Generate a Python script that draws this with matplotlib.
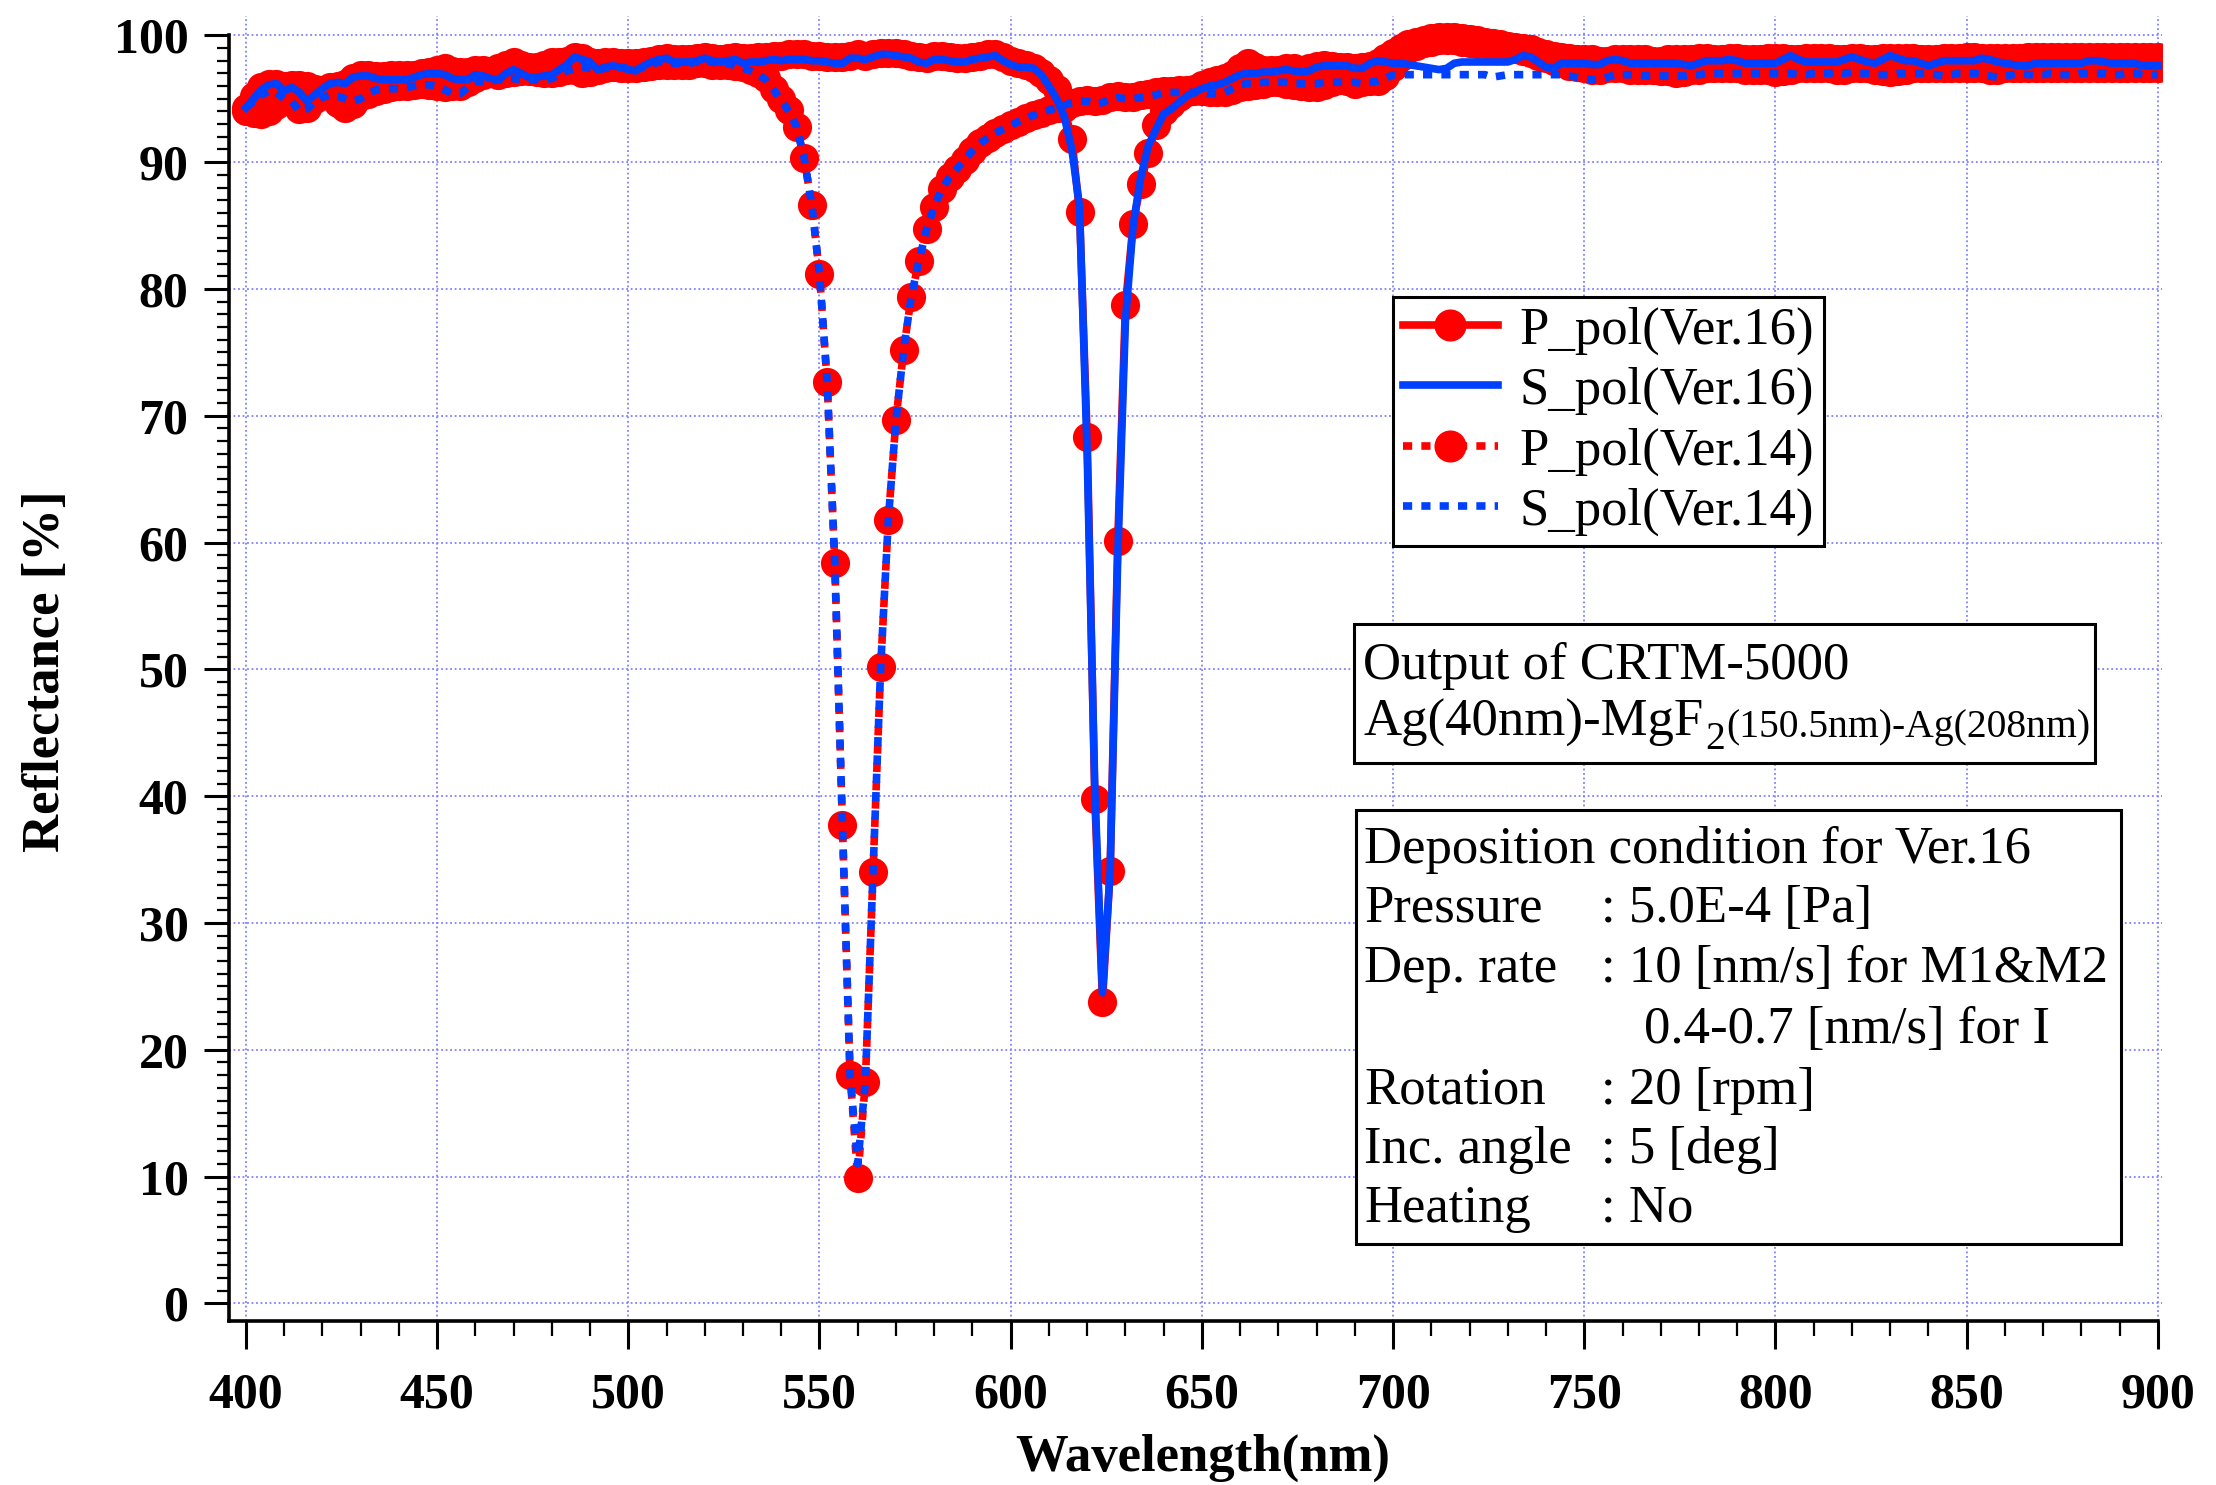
import numpy as np
import matplotlib
matplotlib.use("Agg")
import matplotlib.pyplot as plt
from matplotlib.patches import Rectangle
from matplotlib.ticker import FixedLocator

plt.rcParams['font.family'] = ['Liberation Serif', 'DejaVu Serif']

# ---------------- data (2 nm sampling) ----------------
wavelength = np.arange(400, 901, 2)

p_pol_v16 = [
    94.3, 95.2, 95.9, 96.2, 96.2, 96.0, 96.1, 96.1, 96.0, 95.8,   # 400-418
    95.7, 95.9, 96.0, 96.2, 96.6, 96.9, 96.9, 96.8, 96.8, 96.9,   # 420-438
    96.9, 96.9, 96.9, 97.0, 97.1, 97.3, 97.4, 97.2, 97.1, 97.1,   # 440-458
    97.3, 97.3, 97.2, 97.4, 97.7, 97.9, 97.7, 97.5, 97.5, 97.7,   # 460-478
    97.9, 97.9, 98.0, 98.3, 98.2, 97.9, 97.8, 97.9, 97.9, 97.8,   # 480-498
    97.8, 97.8, 97.9, 98.0, 98.1, 98.2, 98.1, 98.1, 98.1, 98.2,   # 500-518
    98.3, 98.2, 98.1, 98.2, 98.3, 98.2, 98.2, 98.3, 98.3, 98.4,   # 520-538
    98.4, 98.5, 98.5, 98.5, 98.4, 98.4, 98.3, 98.3, 98.3, 98.4,   # 540-558
    98.5, 98.4, 98.5, 98.6, 98.6, 98.6, 98.5, 98.4, 98.3, 98.2,   # 560-578
    98.4, 98.4, 98.3, 98.2, 98.2, 98.3, 98.4, 98.5, 98.5, 98.3,   # 580-598
    98.0, 97.8, 97.7, 97.4, 97.0, 96.5, 95.8, 94.3, 91.8, 86.1,   # 600-618
    68.3, 39.8, 23.8, 34.1, 60.1, 78.7, 85.1, 88.3, 90.7, 92.9,   # 620-638
    94.0, 94.6, 95.1, 95.5, 95.8, 96.1, 96.3, 96.5, 96.6, 96.9,   # 640-658
    97.4, 97.8, 97.5, 97.3, 97.3, 97.3, 97.4, 97.4, 97.3, 97.4,   # 660-678
    97.6, 97.7, 97.6, 97.5, 97.5, 97.4, 97.5, 97.6, 97.8, 98.2,   # 680-698
    98.6, 99.0, 99.3, 99.5, 99.6, 99.8, 99.9, 99.9, 99.9, 99.8,   # 700-718
    99.7, 99.6, 99.5, 99.4, 99.3, 99.2, 99.1, 99.0, 98.9, 98.7,   # 720-738
    98.5, 98.4, 98.3, 98.2, 98.1, 98.1, 98.1, 98.0, 98.0, 98.1,   # 740-758
    98.1, 98.1, 98.1, 98.1, 98.0, 98.0, 98.1, 98.1, 98.1, 98.1,   # 760-778
    98.2, 98.2, 98.1, 98.1, 98.2, 98.2, 98.1, 98.1, 98.1, 98.2,   # 780-798
    98.2, 98.2, 98.1, 98.1, 98.2, 98.2, 98.2, 98.2, 98.1, 98.1,   # 800-818
    98.2, 98.2, 98.1, 98.1, 98.2, 98.2, 98.2, 98.2, 98.2, 98.1,   # 820-838
    98.1, 98.1, 98.2, 98.2, 98.2, 98.3, 98.3, 98.2, 98.2, 98.2,   # 840-858
    98.2, 98.2, 98.2, 98.3, 98.3, 98.3, 98.3, 98.3, 98.3, 98.3,   # 860-878
    98.3, 98.3, 98.3, 98.3, 98.3, 98.3, 98.3, 98.3, 98.3, 98.3,   # 880-898
    98.3]                                                         # 900

s_pol_v16 = [
    94.3, 95.0, 95.7, 96.1, 96.2, 95.6, 95.9, 95.5, 94.8, 95.3,
    95.8, 96.2, 96.3, 96.2, 96.7, 96.8, 96.8, 96.6, 96.5, 96.5,
    96.5, 96.5, 96.7, 96.9, 97.0, 97.0, 96.9, 96.6, 96.5, 96.5,
    96.9, 96.8, 96.6, 96.5, 97.0, 97.3, 97.0, 96.7, 96.7, 96.8,
    96.9, 97.3, 97.7, 98.3, 98.1, 97.9, 97.3, 97.5, 97.6, 97.5,
    97.3, 97.2, 97.6, 97.9, 98.1, 98.2, 97.9, 97.9, 97.9, 98.0,
    98.2, 98.0, 97.9, 98.0, 98.1, 97.8, 97.9, 97.9, 98.0, 98.1,
    98.0, 98.1, 98.1, 98.1, 98.0, 98.0, 97.9, 97.8, 97.8, 98.2,
    98.2, 98.1, 98.3, 98.5, 98.5, 98.4, 98.3, 98.2, 97.9, 97.8,
    98.1, 98.1, 98.0, 97.9, 97.9, 98.1, 98.2, 98.3, 98.4, 98.0,
    97.7, 97.5, 97.5, 97.4, 96.9, 96.0, 95.0, 93.6, 91.0, 86.5,
    67.0, 40.5, 24.5, 34.0, 59.0, 77.5, 85.0, 88.8, 91.3, 92.6,
    93.8, 94.2, 94.7, 95.2, 95.5, 95.8, 96.0, 96.1, 96.3, 96.6,
    96.9, 97.0, 97.0, 97.1, 97.1, 97.2, 97.3, 97.2, 97.1, 97.2,
    97.5, 97.6, 97.6, 97.6, 97.6, 97.4, 97.4, 97.8, 98.0, 97.9,
    97.8, 97.8, 97.7, 97.6, 97.5, 97.4, 97.3, 97.4, 97.8, 97.9,
    97.9, 97.9, 97.9, 97.9, 97.9, 97.9, 98.1, 98.4, 98.3, 97.9,
    97.5, 97.4, 97.8, 97.8, 97.8, 97.8, 97.7, 97.7, 98.0, 98.1,
    98.0, 97.8, 97.8, 97.8, 97.8, 97.8, 97.8, 97.8, 97.7, 97.6,
    97.8, 98.0, 98.0, 98.0, 98.1, 98.0, 97.8, 97.8, 97.8, 97.8,
    97.8, 98.1, 98.4, 98.1, 97.9, 97.9, 97.9, 97.9, 97.9, 98.1,
    98.3, 98.1, 97.9, 97.8, 98.1, 98.4, 98.2, 98.0, 98.0, 97.8,
    97.6, 97.8, 98.0, 98.0, 98.0, 98.0, 98.0, 98.2, 98.1, 97.9,
    97.8, 97.7, 97.6, 97.6, 97.8, 97.8, 97.8, 97.8, 97.8, 97.8,
    97.8, 98.0, 98.0, 97.9, 97.8, 97.8, 97.8, 97.8, 97.6, 97.6,
    97.6]

p_pol_v14 = [
    94.0, 93.9, 93.8, 94.0, 94.5, 94.9, 94.9, 94.2, 94.3, 95.0,
    95.4, 95.2, 94.7, 94.3, 94.6, 95.2, 95.4, 95.6, 95.8, 95.9,
    96.0, 96.0, 96.1, 96.2, 96.1, 96.0, 95.9, 96.0, 96.0, 96.3,
    96.6, 96.9, 97.0, 96.9, 97.0, 97.1, 97.2, 97.2, 97.1, 97.0,
    97.0, 97.1, 97.3, 97.3, 97.0, 97.1, 97.3, 97.4, 97.5, 97.4,
    97.4, 97.4, 97.5, 97.6, 97.7, 97.7, 97.7, 97.7, 97.7, 97.8,
    97.8, 97.7, 97.7, 97.7, 97.6, 97.5, 97.3, 97.0, 96.6, 95.8,
    95.0, 94.1, 92.8, 90.3, 86.6, 81.2, 72.7, 58.4, 37.7, 18.0,
    9.9, 17.5, 34.0, 50.2, 61.8, 69.7, 75.2, 79.4, 82.2, 84.7,
    86.5, 87.9, 88.8, 89.5, 90.2, 90.9, 91.5, 91.9, 92.3, 92.6,
    92.9, 93.2, 93.5, 93.7, 93.9, 94.1, 94.3, 94.5, 94.7, 94.8,
    94.9, 94.8, 94.9, 95.1, 95.2, 95.1, 95.1, 95.3, 95.4, 95.5,
    95.6, 95.6, 95.7, 95.7, 95.6, 95.6, 95.5, 95.5, 95.5, 95.7,
    95.9, 96.0, 96.1, 96.2, 96.3, 96.3, 96.2, 96.1, 96.0, 95.9,
    95.9, 96.1, 96.3, 96.5, 96.4, 96.2, 96.3, 96.4, 96.4, 96.8,
    97.5, 98.3, 98.9, 99.2, 99.4, 99.5, 99.6, 99.6, 99.6, 99.5,
    99.4, 99.3, 99.3, 99.2, 99.1, 99.0, 98.9, 98.8, 98.6, 98.4,
    98.2, 98.0, 97.8, 97.6, 97.5, 97.4, 97.3, 97.3, 97.4, 97.4,
    97.4, 97.3, 97.3, 97.3, 97.3, 97.2, 97.2, 97.0, 97.1, 97.3,
    97.3, 97.4, 97.4, 97.4, 97.4, 97.4, 97.3, 97.3, 97.3, 97.3,
    97.1, 97.2, 97.3, 97.4, 97.4, 97.4, 97.4, 97.4, 97.3, 97.3,
    97.4, 97.4, 97.4, 97.3, 97.2, 97.1, 97.2, 97.3, 97.4, 97.4,
    97.4, 97.4, 97.4, 97.4, 97.4, 97.4, 97.4, 97.4, 97.3, 97.3,
    97.4, 97.4, 97.4, 97.4, 97.4, 97.4, 97.4, 97.4, 97.4, 97.4,
    97.4, 97.4, 97.4, 97.4, 97.4, 97.4, 97.4, 97.4, 97.4, 97.4,
    97.4]

s_pol_v14 = [
    94.3, 94.8, 95.3, 95.6, 95.5, 95.0, 94.8, 94.0, 94.2, 94.8,
    95.1, 95.3, 95.2, 95.0, 94.8, 95.0, 95.4, 95.7, 95.8, 95.8,
    95.8, 95.9, 96.0, 96.1, 96.1, 96.0, 95.7, 95.4, 95.4, 95.9,
    96.3, 96.4, 96.4, 96.5, 96.6, 96.6, 96.5, 96.5, 96.5, 96.5,
    96.6, 96.9, 97.2, 97.4, 97.5, 97.4, 97.3, 97.4, 97.5, 97.5,
    97.4, 97.3, 97.5, 97.7, 97.9, 97.9, 97.8, 97.8, 97.8, 97.9,
    98.0, 97.9, 97.8, 97.8, 97.6, 97.4, 97.2, 96.9, 96.5, 95.7,
    94.9, 94.0, 92.8, 90.3, 86.6, 81.2, 72.7, 58.4, 37.7, 18.0,
    11.0, 17.5, 34.0, 50.2, 61.8, 69.7, 75.2, 79.4, 82.2, 84.7,
    86.5, 87.9, 88.8, 89.5, 90.2, 90.9, 91.5, 91.9, 92.3, 92.6,
    92.9, 93.2, 93.5, 93.7, 93.9, 94.1, 94.3, 94.5, 94.7, 94.8,
    94.8, 94.6, 94.7, 95.0, 95.1, 95.0, 95.0, 95.1, 95.2, 95.3,
    95.5, 95.5, 95.5, 95.5, 95.5, 95.5, 95.4, 95.4, 95.5, 95.8,
    96.1, 96.2, 96.2, 96.3, 96.3, 96.3, 96.3, 96.2, 96.2, 96.2,
    96.2, 96.3, 96.3, 96.3, 96.3, 96.3, 96.2, 96.3, 96.4, 96.6,
    96.9, 96.9, 96.9, 96.9, 96.9, 96.9, 96.9, 96.9, 96.9, 96.9,
    96.9, 96.9, 96.9, 96.7, 96.8, 96.9, 96.9, 96.9, 96.9, 96.9,
    96.9, 96.9, 96.9, 96.8, 96.7, 96.6, 96.5, 96.5, 96.7, 96.9,
    96.9, 96.9, 96.9, 96.8, 96.8, 96.8, 96.8, 96.8, 96.8, 96.9,
    96.9, 97.0, 97.0, 97.0, 97.0, 97.0, 97.0, 97.0, 97.0, 97.0,
    97.0, 97.0, 97.0, 96.9, 96.9, 97.0, 97.0, 97.0, 97.1, 97.0,
    97.1, 97.0, 97.0, 96.9, 96.9, 96.9, 97.0, 97.0, 97.0, 97.0,
    97.0, 96.9, 96.8, 96.9, 97.0, 97.0, 97.0, 96.9, 96.8, 96.7,
    96.8, 96.9, 97.0, 96.9, 96.9, 96.9, 97.0, 96.9, 96.9, 96.9,
    97.0, 97.0, 97.0, 97.0, 96.9, 96.9, 97.0, 97.0, 96.9, 96.9,
    96.9]

series_labels = ['P_pol(Ver.16)', 'S_pol(Ver.16)', 'P_pol(Ver.14)', 'S_pol(Ver.14)']
x_ticks = [400, 450, 500, 550, 600, 650, 700, 750, 800, 850, 900]
y_ticks = [0, 10, 20, 30, 40, 50, 60, 70, 80, 90, 100]

info_title = ['Output of CRTM-5000']
structure_parts = ['Ag(40nm)-MgF', '2', '(150.5nm)-Ag(208nm)']
cond_title = 'Deposition condition for Ver.16'
cond_keys = ['Pressure', 'Dep. rate', '', 'Rotation', 'Inc. angle', 'Heating']
cond_vals = [': 5.0E-4 [Pa]', ': 10 [nm/s] for M1&M2', '0.4-0.7 [nm/s] for I',
             ': 20 [rpm]', ': 5 [deg]', ': No']

# ---------------- figure ----------------
W, H = 2216, 1485
fig = plt.figure(figsize=(W / 100, H / 100), dpi=100)
fx = lambda px: px / W
fy = lambda py: 1 - py / H

ax = fig.add_axes([0.1032, 0.1104, 0.9755 - 0.1032, 0.9890 - 0.1104])

RED = '#FF0000'
BLUE = '#0040FF'
dot = (0, (1.2, 1.2))
ms = 21
LW = 5.5

ax.plot(wavelength, p_pol_v16, color=RED, lw=LW, marker='o', ms=ms, mew=0,
        mfc=RED, label=series_labels[0], zorder=3)
ax.plot(wavelength, s_pol_v16, color=BLUE, lw=LW, label=series_labels[1], zorder=5)
ax.plot(wavelength, p_pol_v14, color=RED, lw=LW, ls=dot, marker='o', ms=ms, mew=0,
        mfc=RED, label=series_labels[2], zorder=4)
ax.plot(wavelength, s_pol_v14, color=BLUE, lw=LW, ls=dot, label=series_labels[3], zorder=6)

ax.set_xlim(395.5, 901)
ax.set_ylim(-1.39, 101.5)
for s in ['top', 'right']:
    ax.spines[s].set_visible(False)
ax.spines['left'].set_bounds(-1.39, 100)
ax.spines['bottom'].set_bounds(395.5, 900)
ax.spines['left'].set_linewidth(2.6)
ax.spines['bottom'].set_linewidth(2.6)

ax.xaxis.set_major_locator(FixedLocator(x_ticks))
ax.xaxis.set_minor_locator(FixedLocator(list(range(400, 901, 10))))
ax.yaxis.set_major_locator(FixedLocator(y_ticks))
ax.yaxis.set_minor_locator(FixedLocator(list(range(0, 101, 1))))
ax.set_xticklabels([str(v) for v in x_ticks], fontsize=36, fontweight='bold')
ax.set_yticklabels([str(v) for v in y_ticks], fontsize=36, fontweight='bold')
ax.tick_params(axis='x', which='major', direction='out', length=20, width=2.2, pad=17)
ax.tick_params(axis='x', which='minor', direction='out', length=11, width=1.6)
ax.tick_params(axis='y', which='major', direction='out', length=18, width=2.2, pad=11)
ax.tick_params(axis='y', which='minor', direction='out', length=9, width=1.6)

ax.set_axisbelow(True)
ax.grid(True, which='major', color='#8080FF', linestyle=(0, (1, 1.5)), linewidth=1.3)

fig.text(fx(1203), fy(1458), 'Wavelength(nm)', ha='center', va='center',
         fontsize=38, fontweight='bold')
fig.text(fx(46), fy(671), 'Reflectance [%]', ha='center', va='center',
         rotation=90, fontsize=38, fontweight='bold')

leg = ax.legend(loc='upper left', bbox_to_anchor=(fx(1393), fy(297)),
                bbox_transform=fig.transFigure, prop={'size': 38},
                frameon=True, fancybox=False, edgecolor='black', framealpha=1,
                borderaxespad=0, borderpad=0.18, handlelength=1.8,
                handletextpad=0.42, labelspacing=0.23, markerscale=1.1)
leg.get_frame().set_linewidth(2.2)
leg.set_zorder(10)

# ---------------- text boxes ----------------
def box(x0, y0, x1, y1):
    r = Rectangle((fx(x0), fy(y1)), fx(x1) - fx(x0), fy(y0) - fy(y1),
                  transform=fig.transFigure, facecolor='white', edgecolor='black',
                  linewidth=2.2, zorder=5)
    fig.add_artist(r)

box(1354, 624, 2095, 763)
box(1356, 810, 2121, 1244)

FS = 38
fig.text(fx(1363), fy(679), info_title[0], fontsize=FS, va='baseline', zorder=6)
t_a = fig.text(fx(1363), fy(736), structure_parts[0], fontsize=FS, va='baseline', zorder=6)
fig.canvas.draw()
rend = fig.canvas.get_renderer()
xa = t_a.get_window_extent(rend).x1
t_b = fig.text(xa / W + fx(2), fy(749), structure_parts[1], fontsize=28.5, va='baseline', zorder=6)
fig.canvas.draw()
xb = t_b.get_window_extent(rend).x1
fig.text(xb / W + fx(1), fy(737), structure_parts[2], fontsize=28.5, va='baseline', zorder=6)

fig.text(fx(1364), fy(863), cond_title, fontsize=FS, va='baseline', zorder=6)
baselines = [922, 982, 1043, 1104, 1163, 1222]
for k, v, b in zip(cond_keys, cond_vals, baselines):
    if k:
        fig.text(fx(1364), fy(b), k, fontsize=FS, va='baseline', zorder=6)
        fig.text(fx(1601), fy(b), v, fontsize=FS, va='baseline', zorder=6)
    else:
        fig.text(fx(1644), fy(b), v, fontsize=FS, va='baseline', zorder=6)

fig.savefig('out.png', dpi=100)
